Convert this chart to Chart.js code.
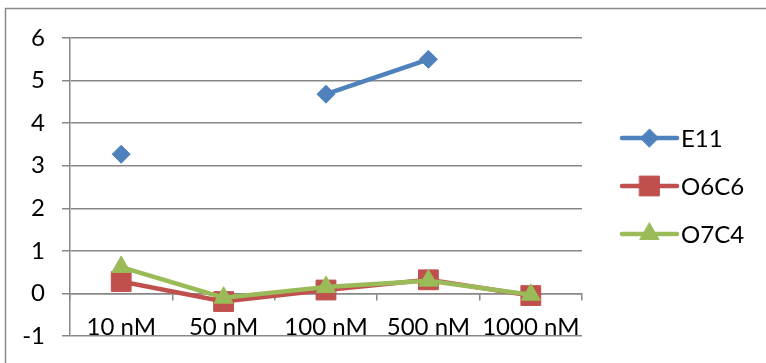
<!DOCTYPE html>
<html><head><meta charset="utf-8">
<script src="https://cdn.jsdelivr.net/npm/chart.js@4"></script>
<style>html,body{margin:0;padding:0;background:#fff}#wrap{width:766px;height:363px;position:relative}</style>
</head><body><div id="wrap"><canvas id="c"></canvas></div>
<script>
// Concentrations on the category axis
const categories = ['10 nM', '50 nM', '100 nM', '500 nM', '1000 nM'];
// Series values (null = no measurement)
const e11  = [3.27, null, 4.68, 5.5, null];
const o6c6 = [0.28, -0.19, 0.08, 0.32, -0.05];
const o7c4 = [0.62, -0.10, 0.15, 0.30, -0.03];
// Value axis range
const yMin = -1, yMax = 6, yStep = 1;

const FONT = 'Lato, "Liberation Sans", sans-serif';
const FONT_SIZE = 24;
const GRID = '#878787';

const series = [
  { label: 'E11',  data: e11,  color: '#4F81BD', style: 'rectRot',  radius: 9,  order: 3 },
  { label: 'O6C6', data: o6c6, color: '#C0504D', style: 'rect',     radius: 14, order: 2 },
  { label: 'O7C4', data: o7c4, color: '#9BBB59', style: 'triangle', radius: 11, order: 1 }
];

// Outer frame around the chart
const framePlugin = {
  id: 'frame',
  beforeDraw(chart) {
    const ctx = chart.ctx;
    ctx.save();
    ctx.strokeStyle = '#8a8a8a';
    ctx.lineWidth = 1.5;
    ctx.beginPath();
    ctx.moveTo(5.5, chart.height);
    ctx.lineTo(5.5, 8.5);
    ctx.lineTo(chart.width, 8.5);
    ctx.stroke();
    ctx.restore();
  }
};

// Legend on the right: line segment with marker, then label
const sideLegend = {
  id: 'sideLegend',
  afterDraw(chart) {
    const ctx = chart.ctx;
    const x0 = 622, x1 = 677, tx = 681;
    const ys = [138, 186, 234];
    ctx.save();
    chart.data.datasets.forEach((ds, i) => {
      const y = ys[i];
      ctx.strokeStyle = ds.borderColor;
      ctx.lineWidth = ds.borderWidth;
      ctx.lineCap = 'round';
      ctx.beginPath();
      ctx.moveTo(x0, y);
      ctx.lineTo(x1, y);
      ctx.stroke();
      ctx.fillStyle = ds.pointBackgroundColor;
      ctx.strokeStyle = ds.pointBorderColor;
      ctx.lineWidth = 1;
      Chart.helpers.drawPoint(ctx, { pointStyle: ds.pointStyle, radius: ds.pointRadius, borderWidth: 1, rotation: 0 }, (x0 + x1) / 2, y);
      ctx.fillStyle = '#000';
      ctx.font = FONT_SIZE + 'px ' + FONT;
      ctx.textAlign = 'left';
      ctx.textBaseline = 'middle';
      ctx.fillText(ds.label, tx, y + 1);
    });
    ctx.restore();
  }
};

new Chart(document.getElementById('c'), {
  type: 'line',
  data: {
    labels: categories,
    datasets: series.map(s => ({
      label: s.label,
      data: s.data,
      borderColor: s.color,
      backgroundColor: s.color,
      borderWidth: 4.5,
      pointStyle: s.style,
      pointRadius: s.radius,
      pointHoverRadius: s.radius,
      pointBackgroundColor: s.color,
      pointBorderColor: s.color,
      pointBorderWidth: 1,
      spanGaps: false,
      tension: 0,
      order: s.order
    }))
  },
  options: {
    responsive: true,
    maintainAspectRatio: false,
    animation: false,
    layout: { padding: { top: 38, bottom: 27, left: 0, right: 184 } },
    plugins: { legend: { display: false }, tooltip: { enabled: false } },
    scales: {
      x: {
        type: 'category',
        position: { y: 0 },
        offset: true,
        afterFit(scale) { scale.paddingTop = 0; scale.paddingBottom = 0; scale.paddingLeft = 0; scale.paddingRight = 0; },
        grid: { display: true, drawOnChartArea: false, drawTicks: true, tickLength: 6, color: GRID, lineWidth: 1.5, offset: true },
        border: { display: true, color: GRID, width: 1.5 },
        ticks: { color: '#000', font: { family: FONT, size: FONT_SIZE }, padding: 13, maxRotation: 0, autoSkip: false }
      },
      y: {
        min: yMin, max: yMax,
        afterFit(scale) { scale.width = 70; scale.paddingTop = 0; scale.paddingBottom = 0; },
        ticks: { stepSize: yStep, color: '#000', font: { family: FONT, size: FONT_SIZE }, padding: 17 },
        grid: { color: GRID, lineWidth: 1.5, tickLength: 8, drawTicks: true },
        border: { display: true, color: GRID, width: 1.5 }
      }
    }
  },
  plugins: [framePlugin, sideLegend]
});
</script>
</body></html>
